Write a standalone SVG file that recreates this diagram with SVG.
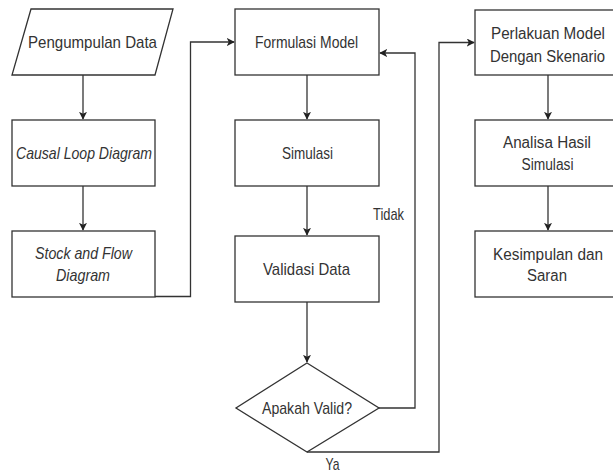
<svg xmlns="http://www.w3.org/2000/svg" width="613" height="475" viewBox="0 0 613 475">
  <style>
    .shape { fill: #ffffff; stroke: #333333; stroke-width: 1.3; }
    .edge { fill: none; stroke: #333333; stroke-width: 1.3; }
    text { font-family: "Liberation Sans", Arial, sans-serif; font-size: 17px; fill: #333333; text-anchor: middle; }
    .it { font-style: italic; }
    .rc text { font-size: 16px; }
  </style>
  <defs>
    <marker id="arrow" viewBox="0 0 10 10" refX="9" refY="5" markerWidth="8" markerHeight="8" markerUnits="userSpaceOnUse" orient="auto">
      <path d="M0,0 L10,5 L0,10 L2.5,5 Z" fill="#222222"/>
    </marker>
  </defs>
  <rect width="613" height="475" fill="#ffffff"/>

  <!-- connectors -->
  <g id="connectors">
    <path class="edge" d="M83,75 V119" marker-end="url(#arrow)"/>
    <path class="edge" d="M83,186 V230" marker-end="url(#arrow)"/>
    <path class="edge" d="M155,296.5 H190.5 V42 H234" marker-end="url(#arrow)"/>
    <path class="edge" d="M307,75 V119" marker-end="url(#arrow)"/>
    <path class="edge" d="M307,186 V235" marker-end="url(#arrow)"/>
    <path class="edge" d="M307,302 V362" marker-end="url(#arrow)"/>
    <path class="edge" d="M379,408 H415 V53 H380" marker-end="url(#arrow)"/>
    <path class="edge" d="M307,452 H439 V42.5 H474" marker-end="url(#arrow)"/>
    <path class="edge" d="M548,75 V119" marker-end="url(#arrow)"/>
    <path class="edge" d="M548,186 V230" marker-end="url(#arrow)"/>
    <text x="388.5" y="220" textLength="31" lengthAdjust="spacingAndGlyphs">Tidak</text>
    <text x="332.5" y="470" textLength="14" lengthAdjust="spacingAndGlyphs">Ya</text>
  </g>

  <!-- left column -->
  <g id="pengumpulan-data">
    <polygon class="shape" points="31,9 173,9 155,75 12,75"/>
    <text x="92.5" y="47.5" textLength="129" lengthAdjust="spacingAndGlyphs">Pengumpulan Data</text>
  </g>
  <g id="causal-loop-diagram">
    <rect class="shape" x="12" y="120" width="143" height="66"/>
    <text class="it" x="84" y="158.5" textLength="136" lengthAdjust="spacingAndGlyphs">Causal Loop Diagram</text>
  </g>
  <g id="stock-flow-diagram">
    <rect class="shape" x="12" y="231" width="143" height="66"/>
    <text class="it" x="83.5" y="259" textLength="97" lengthAdjust="spacingAndGlyphs">Stock and Flow</text>
    <text class="it" x="83" y="281" textLength="54" lengthAdjust="spacingAndGlyphs">Diagram</text>
  </g>

  <!-- middle column -->
  <g id="formulasi-model">
    <rect class="shape" x="235" y="9" width="144" height="66"/>
    <text x="306.5" y="47.5" textLength="103" lengthAdjust="spacingAndGlyphs">Formulasi Model</text>
  </g>
  <g id="simulasi">
    <rect class="shape" x="235" y="120" width="144" height="66"/>
    <text x="307.5" y="159" textLength="51" lengthAdjust="spacingAndGlyphs">Simulasi</text>
  </g>
  <g id="validasi-data">
    <rect class="shape" x="235" y="236" width="144" height="66"/>
    <text x="306.5" y="274.5" textLength="87" lengthAdjust="spacingAndGlyphs">Validasi Data</text>
  </g>
  <g id="apakah-valid">
    <polygon class="shape" points="307,363 379,408 307,452 236,408"/>
    <text x="307" y="413.5" textLength="90" lengthAdjust="spacingAndGlyphs">Apakah Valid?</text>
  </g>

  <!-- right column (boxes run to the page edge) -->
  <g class="rc">
    <g id="perlakuan-model">
      <rect class="shape" x="475" y="10" width="139" height="65"/>
      <text x="548" y="38.5" textLength="114" lengthAdjust="spacingAndGlyphs">Perlakuan Model</text>
      <text x="547.5" y="62" textLength="115" lengthAdjust="spacingAndGlyphs">Dengan Skenario</text>
    </g>
    <g id="analisa-hasil-simulasi">
      <rect class="shape" x="475" y="120" width="139" height="66"/>
      <text x="547" y="148" textLength="88" lengthAdjust="spacingAndGlyphs">Analisa Hasil</text>
      <text x="547.5" y="170" textLength="52" lengthAdjust="spacingAndGlyphs">Simulasi</text>
    </g>
    <g id="kesimpulan-saran">
      <rect class="shape" x="475" y="231" width="139" height="66"/>
      <text x="548" y="260" textLength="110" lengthAdjust="spacingAndGlyphs">Kesimpulan dan</text>
      <text x="547" y="281" textLength="40" lengthAdjust="spacingAndGlyphs">Saran</text>
    </g>
  </g>
</svg>
